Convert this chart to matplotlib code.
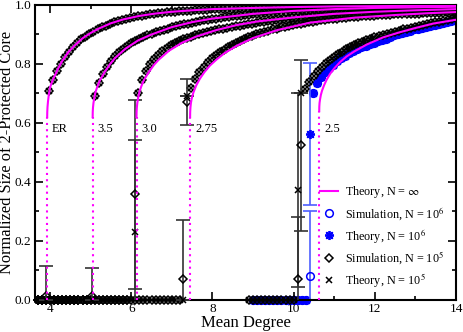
import numpy as np
import matplotlib
matplotlib.use('Agg')
import matplotlib.pyplot as plt
from matplotlib.lines import Line2D

plt.rcParams['font.family'] = ['Liberation Serif', 'DejaVu Serif']
plt.rcParams['mathtext.fontset'] = 'stix'

# ---- theory, N = infinity ----
curve_labels = ['ER', '3.5', '3.0', '2.75', '2.5']
thresholds = [3.93, 5.05, 6.13, 7.45, 10.63]
th_start = [0.62, 0.62, 0.62, 0.62, 0.64]

er_th_x = [3.93, 3.932, 3.938, 3.95, 3.97, 4.0, 4.05, 4.1, 4.2, 4.3, 4.45, 4.6, 4.8, 5.0,
           5.2, 5.5, 5.8, 6.2, 6.6, 7.0, 7.5, 8.0, 9.0, 10.0, 11.0, 12.0, 13.0, 14.0]
er_th_y = [0.62, 0.637, 0.654, 0.673, 0.696, 0.72, 0.74, 0.755, 0.785, 0.81, 0.84, 0.862, 0.887, 0.905,
           0.92, 0.938, 0.951, 0.963, 0.971, 0.977, 0.982, 0.986, 0.99, 0.993, 0.995, 0.996, 0.997, 0.998]
g35_th_x = [5.05, 5.052, 5.058, 5.07, 5.09, 5.12, 5.17, 5.23, 5.35, 5.48, 5.6, 5.85, 6.17, 6.5,
            7.0, 7.5, 8.0, 9.0, 10.0, 11.0, 12.0, 13.0, 14.0]
g35_th_y = [0.62, 0.637, 0.652, 0.668, 0.685, 0.705, 0.725, 0.745, 0.774, 0.80, 0.82, 0.851, 0.88, 0.90,
            0.925, 0.942, 0.954, 0.97, 0.98, 0.986, 0.99, 0.992, 0.994]
g30_th_x = [6.13, 6.132, 6.138, 6.15, 6.17, 6.2, 6.25, 6.31, 6.43, 6.56, 6.68, 6.93, 7.25, 7.6,
            8.1, 8.6, 9.1, 10.0, 11.0, 12.0, 13.0, 14.0]
g30_th_y = [0.62, 0.637, 0.652, 0.668, 0.685, 0.705, 0.725, 0.745, 0.772, 0.797, 0.815, 0.845, 0.872, 0.893,
            0.915, 0.932, 0.944, 0.958, 0.97, 0.977, 0.982, 0.986]
g275_th_x = [7.45, 7.452, 7.458, 7.47, 7.49, 7.53, 7.6, 7.69, 7.8, 7.94, 8.1, 8.3, 8.6, 9.0,
             9.6, 10.4, 11.5, 12.5, 13.3, 14.0]
g275_th_y = [0.62, 0.637, 0.652, 0.668, 0.683, 0.703, 0.727, 0.75, 0.772, 0.795, 0.815, 0.837, 0.862, 0.888,
             0.915, 0.94, 0.957, 0.966, 0.972, 0.976]
g25_th_x = [10.63, 10.632, 10.638, 10.65, 10.67, 10.7, 10.75, 10.81, 10.9, 11.0, 11.14, 11.3, 11.5,
            11.8, 12.2, 12.6, 13.0, 13.44, 14.0]
g25_th_y = [0.64, 0.655, 0.668, 0.68, 0.695, 0.71, 0.728, 0.746, 0.767, 0.785, 0.806, 0.825, 0.843,
            0.866, 0.89, 0.907, 0.922, 0.937, 0.95]

# ---- N = 10^5 (simulation and finite-N theory), step 0.1 ----
er_start = 3.97
er_1e5 = [0.71, 0.745, 0.775, 0.80, 0.822, 0.842, 0.858, 0.871, 0.883, 0.893,
          0.902, 0.91, 0.917, 0.924, 0.93, 0.936, 0.941, 0.945, 0.949, 0.953,
          0.956, 0.959, 0.962, 0.964, 0.966, 0.968, 0.97, 0.972, 0.973, 0.975,
          0.976, 0.977, 0.978, 0.979, 0.98, 0.981, 0.982, 0.983, 0.983, 0.984,
          0.985, 0.986, 0.986, 0.987, 0.987, 0.988, 0.988, 0.989, 0.989, 0.99,
          0.99, 0.99, 0.991, 0.991, 0.991, 0.992, 0.992, 0.992, 0.993, 0.993,
          0.993, 0.993, 0.994, 0.994, 0.994, 0.994, 0.995, 0.995, 0.995, 0.995,
          0.995, 0.996, 0.996, 0.996, 0.996, 0.996, 0.996, 0.997, 0.997, 0.997,
          0.997, 0.997, 0.997, 0.997, 0.997, 0.998, 0.998, 0.998, 0.998, 0.998,
          0.998, 0.998, 0.998, 0.998, 0.998, 0.998, 0.998, 0.999, 0.999, 0.999,
          0.999]
g35_start = 5.10
g35_1e5 = [0.69, 0.735, 0.765, 0.79, 0.81, 0.826, 0.84, 0.852, 0.862, 0.871,
           0.878, 0.885, 0.891, 0.897, 0.902, 0.907, 0.912, 0.916, 0.92, 0.924,
           0.928, 0.931, 0.934, 0.937, 0.94, 0.943, 0.945, 0.948, 0.95, 0.952,
           0.954, 0.956, 0.958, 0.96, 0.961, 0.963, 0.964, 0.966, 0.967, 0.968,
           0.97, 0.971, 0.972, 0.973, 0.974, 0.975, 0.976, 0.977, 0.978, 0.979,
           0.98, 0.98, 0.981, 0.982, 0.982, 0.983, 0.984, 0.984, 0.985, 0.985,
           0.986, 0.986, 0.987, 0.987, 0.988, 0.988, 0.988, 0.989, 0.989, 0.99,
           0.99, 0.99, 0.99, 0.991, 0.991, 0.991, 0.992, 0.992, 0.992, 0.992,
           0.993, 0.993, 0.993, 0.993, 0.994, 0.994, 0.994, 0.994, 0.994, 0.995]
g30_start = 6.17
g30_1e5 = [0.70, 0.745, 0.775, 0.80, 0.817, 0.832, 0.845, 0.855, 0.864, 0.871,
           0.877, 0.883, 0.888, 0.893, 0.897, 0.901, 0.905, 0.908, 0.911, 0.914,
           0.917, 0.92, 0.923, 0.926, 0.928, 0.93, 0.933, 0.935, 0.937, 0.939,
           0.941, 0.943, 0.945, 0.947, 0.949, 0.95, 0.952, 0.953, 0.955, 0.956,
           0.958, 0.959, 0.96, 0.962, 0.963, 0.964, 0.965, 0.966, 0.967, 0.968,
           0.969, 0.97, 0.971, 0.972, 0.972, 0.973, 0.974, 0.974, 0.975, 0.976,
           0.976, 0.977, 0.977, 0.978, 0.978, 0.979, 0.979, 0.98, 0.98, 0.981,
           0.981, 0.981, 0.982, 0.982, 0.983, 0.983, 0.983, 0.984, 0.984]
g275_start = 7.48
g275_1e5 = [0.72, 0.75, 0.772, 0.79, 0.806, 0.82, 0.83, 0.84, 0.849,
            0.857, 0.865, 0.872, 0.879, 0.885, 0.891, 0.896, 0.901, 0.905, 0.909,
            0.913, 0.917, 0.92, 0.924, 0.927, 0.93, 0.932, 0.935, 0.937, 0.94,
            0.942, 0.944, 0.946, 0.948, 0.949, 0.951, 0.952, 0.954, 0.955, 0.956,
            0.958, 0.959, 0.96, 0.961, 0.962, 0.963, 0.964, 0.965, 0.965, 0.966,
            0.967, 0.968, 0.968, 0.969, 0.97, 0.97, 0.971, 0.971, 0.972, 0.972,
            0.973, 0.973, 0.974, 0.974, 0.975, 0.975, 0.976]
g25_start = 10.29
g25_1e5 = [0.715, 0.74, 0.76, 0.776, 0.79, 0.802, 0.813, 0.824, 0.833, 0.842,
           0.85, 0.857, 0.864, 0.87, 0.876, 0.881, 0.886, 0.89, 0.894, 0.898,
           0.902, 0.906, 0.91, 0.913, 0.917, 0.92, 0.923, 0.926, 0.929, 0.932,
           0.935, 0.938, 0.941, 0.944, 0.947, 0.95, 0.953, 0.956]

# ---- N = 10^6 (only the gamma = 2.5 network) ----
g25_start_1e6 = 10.47
g25_1e6 = [0.70, 0.735, 0.755, 0.772, 0.786, 0.798, 0.809, 0.819, 0.828, 0.836,
           0.843, 0.85, 0.856, 0.862, 0.867, 0.872, 0.877, 0.882, 0.886, 0.89,
           0.897, 0.901, 0.905, 0.909, 0.913, 0.917, 0.92, 0.923, 0.927, 0.93,
           0.933, 0.936, 0.939, 0.942, 0.945, 0.948]

# runs of points that stay at zero below the transition
zero_lo_1e5 = [3.7, 3.7, 3.7, 3.7, 8.9]
zero_hi_1e5 = [3.8, 4.9, 5.9, 7.2, 10.0]
zero_lo_1e6 = [9.0]
zero_hi_1e6 = [10.3]

# points right at the jump, with error bars
jump_x_1e5 = [3.91, 5.03, 6.09, 7.28, 7.38, 10.1, 10.19]
sim_y_1e5 = [0.015, 0.015, 0.358, 0.07, 0.671, 0.07, 0.525]
sim_err_1e5 = [0.10, 0.095, 0.32, 0.20, 0.078, 0.21, 0.29]
fth_y_1e5 = [0.0, 0.0, 0.232, 0.0, 0.69, 0.373, 0.70]
fth_err_1e5 = [0.0, 0.0, 0.31, 0.0, 0.0, 0.33, 0.0]
jump_x_1e6 = [10.4]
sim_y_1e6 = [0.08]
sim_err_1e6 = [0.22]
fth_y_1e6 = [0.563]
fth_err_1e6 = [0.24]

MAG = '#ff00ff'
BLUE = '#0000ff'

fig = plt.figure(figsize=(4.63, 3.32), dpi=100)
ax = fig.add_axes([0.0756, 0.0964, 0.9094, 0.8886])


def steps(start, vals):
    return start + 0.1 * np.arange(len(vals))


def zeros(lo, hi):
    xs = np.arange(lo, hi + 0.001, 0.1)
    return xs, np.zeros_like(xs)


circ = dict(marker='o', ls='none', mfc='none', mec=BLUE, ms=5.5, mew=1.1)
star = dict(marker=(8, 2, 0), ls='none', color=BLUE, ms=6.5, mew=1.3)
diam = dict(marker='D', ls='none', mfc='none', mec='k', ms=4.2, mew=1.1)
cross = dict(marker='x', ls='none', color='k', ms=4.8, mew=1.1)

# N = 10^6 (blue) first, black on top
for lo, hi in zip(zero_lo_1e6, zero_hi_1e6):
    zx, zy = zeros(lo, hi)
    ax.plot(zx, zy, clip_on=False, zorder=2, **circ)
    ax.plot(zx, zy, clip_on=False, zorder=2, **star)
bx = steps(g25_start_1e6, g25_1e6)
ax.plot(bx, g25_1e6, zorder=2, **circ)
ax.plot(bx, g25_1e6, zorder=2, **star)
ax.errorbar(jump_x_1e6, fth_y_1e6, yerr=fth_err_1e6, fmt='none', ecolor='#4d5fff',
            elinewidth=1.2, capsize=5, capthick=1.2, zorder=2)
ax.errorbar(jump_x_1e6, sim_y_1e6, yerr=sim_err_1e6, fmt='none', ecolor='#4d5fff',
            elinewidth=1.2, capsize=5, capthick=1.2, zorder=2)
ax.plot(jump_x_1e6, sim_y_1e6, zorder=3, **circ)
ax.plot(jump_x_1e6, fth_y_1e6, zorder=3, **star)

# N = 10^5 (black)
for lo, hi in zip(zero_lo_1e5, zero_hi_1e5):
    zx, zy = zeros(lo, hi)
    ax.plot(zx, zy, clip_on=False, zorder=3, **diam)
    ax.plot(zx, zy, clip_on=False, zorder=3, **cross)
for start, vals in [(er_start, er_1e5), (g35_start, g35_1e5), (g30_start, g30_1e5),
                    (g275_start, g275_1e5), (g25_start, g25_1e5)]:
    xs = steps(start, vals)
    ax.plot(xs, vals, zorder=3, **diam)
    ax.plot(xs, vals, zorder=3, **cross)
ax.errorbar(jump_x_1e5, sim_y_1e5, yerr=sim_err_1e5, fmt='none', ecolor='#333333',
            elinewidth=1.2, capsize=5, capthick=1.2, zorder=3)
ax.errorbar(jump_x_1e5, fth_y_1e5, yerr=fth_err_1e5, fmt='none', ecolor='#333333',
            elinewidth=1.2, capsize=5, capthick=1.2, zorder=3)
ax.plot(jump_x_1e5, sim_y_1e5, clip_on=False, zorder=4, **diam)
ax.plot(jump_x_1e5, fth_y_1e5, clip_on=False, zorder=4, **cross)

# theory N = infinity
for tx, ty in [(er_th_x, er_th_y), (g35_th_x, g35_th_y), (g30_th_x, g30_th_y),
               (g275_th_x, g275_th_y), (g25_th_x, g25_th_y)]:
    ax.plot(tx, ty, color=MAG, lw=1.5, zorder=5)
for xc, y0, lab in zip(thresholds, th_start, curve_labels):
    ax.plot([xc, xc], [0, y0], color=MAG, lw=1.5, ls=(0, (1, 2)), zorder=5)
    ax.text(xc + 0.12, 0.58, lab, fontsize=9, ha='left', va='center')

ax.set_xlim(3.63, 14)
ax.set_ylim(0, 1)
ax.set_xticks([4, 6, 8, 10, 12, 14])
ax.set_xticks(np.arange(4, 14.1, 1), minor=True)
ax.set_yticks(np.arange(0, 1.01, 0.2))
ax.set_yticks(np.arange(0, 1.01, 0.1), minor=True)
ax.set_yticklabels(['0.0', '0.2', '0.4', '0.6', '0.8', '1.0'])
ax.tick_params(which='both', direction='in', top=True, right=True, labelsize=9.5, width=1.2, pad=2.5)
ax.tick_params(which='major', length=6)
ax.tick_params(which='minor', length=3)
for sp in ax.spines.values():
    sp.set_linewidth(1.5)
ax.set_xlabel('Mean Degree', fontsize=12, labelpad=0)
ax.set_ylabel('Normalized Size of 2-Protected Core', fontsize=11.8)
ax.yaxis.set_label_coords(-0.047, 0.5)

handles = [Line2D([], [], color=MAG, lw=1.5),
           Line2D([], [], **circ),
           Line2D([], [], **star),
           Line2D([], [], **diam),
           Line2D([], [], **cross)]
labels = [r'Theory, N = $\infty$', r'Simulation, N = 10$^{6}$', r'Theory, N = 10$^{6}$',
          r'Simulation, N = 10$^{5}$', r'Theory, N = 10$^{5}$']
ax.legend(handles, labels, loc='lower left', bbox_to_anchor=(0.665, 0.02), frameon=False,
          fontsize=8.7, handlelength=1.5, handletextpad=0.6, labelspacing=0.42, borderaxespad=0)

fig.savefig('out.png', dpi=100)
